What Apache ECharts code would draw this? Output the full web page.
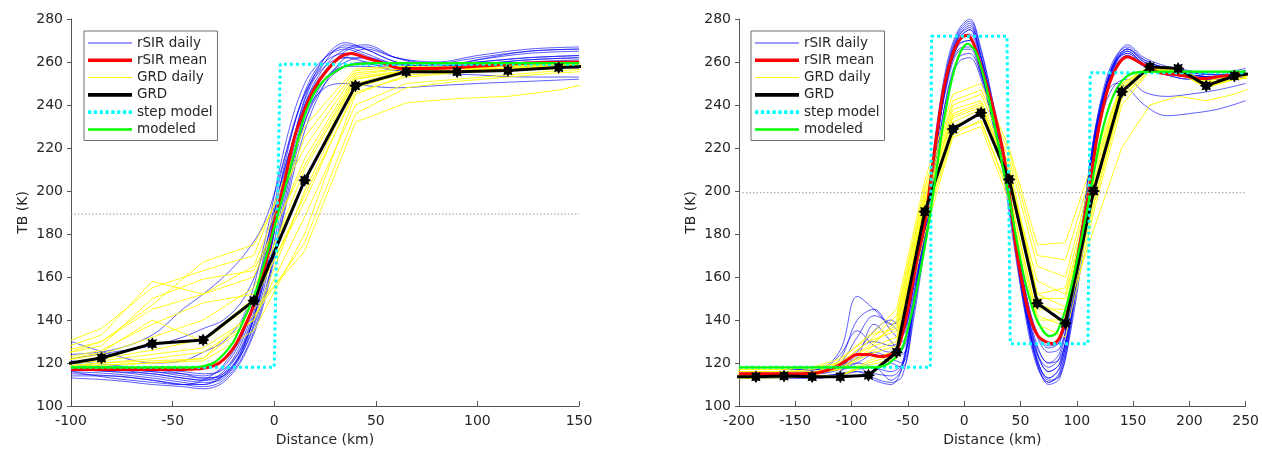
<!DOCTYPE html>
<html>
<head>
<meta charset="utf-8">
<title>TB profiles</title>
<script src="https://cdn.jsdelivr.net/npm/echarts@6/dist/echarts.min.js"></script>
<style>
html, body { margin: 0; padding: 0; background: #fff; }
#chart { width: 1262px; height: 453px; }
</style>
</head>
<body>
<div id="chart"></div>
<script>
// ---------- left panel (single edge) ----------
var leftSirX = [-100, -80, -60, -45, -35, -25, -15, -5, 5, 15, 25, 35, 45, 60, 80, 100, 125, 150];
var leftSirDaily = [
    [116, 115, 113, 111, 110, 114, 128, 158, 205, 242, 260, 268, 266, 260, 258, 260, 262, 263],
    [118, 117, 115, 113, 112, 116, 132, 165, 212, 246, 262, 267, 264, 259, 258, 261, 264, 265],
    [114, 114, 112, 110, 109, 112, 124, 150, 195, 235, 255, 265, 267, 262, 260, 263, 266, 267],
    [120, 118, 116, 115, 114, 118, 134, 170, 215, 245, 258, 262, 260, 256, 255, 256, 258, 259],
    [117, 116, 114, 112, 111, 113, 126, 155, 198, 232, 250, 258, 260, 258, 259, 262, 265, 266],
    [130, 124, 120, 121, 125, 130, 142, 175, 220, 250, 262, 266, 263, 258, 257, 258, 260, 261],
    [115, 114, 112, 110, 110, 115, 130, 162, 208, 240, 256, 262, 262, 259, 258, 259, 261, 262],
    [121, 119, 117, 115, 113, 115, 126, 152, 190, 228, 250, 262, 266, 262, 259, 260, 262, 263],
    [124, 126, 133, 145, 152, 160, 170, 185, 215, 245, 260, 264, 262, 258, 255, 254, 253, 253],
    [116, 113, 111, 110, 112, 119, 135, 168, 210, 236, 248, 250, 249, 248, 249, 250, 251, 252],
    [119, 118, 117, 116, 115, 117, 129, 160, 204, 240, 258, 266, 268, 262, 258, 259, 261, 262],
    [113, 112, 110, 109, 108, 111, 123, 148, 192, 232, 252, 260, 262, 258, 257, 261, 265, 266],
    [118, 117, 116, 114, 113, 114, 128, 158, 205, 243, 262, 269, 266, 260, 257, 258, 259, 260],
    [122, 125, 128, 132, 136, 140, 150, 172, 210, 238, 252, 258, 258, 256, 255, 256, 257, 258],
    [117, 116, 115, 113, 112, 114, 127, 160, 202, 236, 252, 258, 259, 257, 256, 256, 257, 257]
];
var leftSirMeanX = [-100, -80, -60, -45, -35, -27, -20, -15, -10, -5, 0, 5, 10, 15, 20, 25, 32, 38, 45, 55, 62, 80, 100, 125, 150];
var leftSirMean = [117, 117, 117, 117, 117.5, 120, 127, 136, 147, 163, 185, 204, 225, 238, 248, 255, 262, 264, 262, 259, 257, 257, 258, 259.5, 260];
var leftGrdX = [-110, -85, -60, -35, -10, 15, 40, 65, 90, 115, 140, 165];
var leftGrdDaily = [
    [118, 120, 121, 122, 140, 200, 250, 256, 256, 257, 258, 258],
    [120, 124, 132, 140, 155, 205, 252, 256, 257, 258, 259, 259],
    [125, 133, 158, 152, 160, 215, 254, 257, 257, 258, 258, 259],
    [122, 130, 145, 152, 165, 225, 256, 258, 258, 258, 259, 259],
    [118, 119, 120, 121, 135, 180, 245, 254, 255, 256, 257, 258],
    [127, 136, 155, 163, 170, 230, 257, 258, 257, 258, 259, 260],
    [119, 122, 126, 131, 150, 195, 248, 255, 256, 257, 258, 258],
    [118, 119, 120, 122, 145, 172, 232, 241, 243, 244, 247, 252],
    [121, 126, 138, 148, 152, 210, 252, 256, 256, 257, 258, 258],
    [124, 130, 147, 167, 175, 220, 255, 257, 257, 257, 258, 259],
    [118, 120, 122, 125, 140, 188, 240, 250, 252, 254, 256, 257],
    [120, 125, 140, 130, 148, 198, 246, 253, 255, 256, 258, 258],
    [119, 121, 124, 127, 142, 176, 236, 248, 251, 253, 255, 256],
    [123, 128, 150, 159, 163, 212, 253, 256, 256, 257, 258, 259]
];
var leftGrd = [118.5, 122.3, 129, 130.7, 149, 205, 249, 255.5, 255.5, 256, 257.4, 258.5];
var leftStepX = [-100, 0, 3, 150];
var leftStepY = [118, 118, 259, 259];
var leftModelX = [-100, -40, -35, -30, -25, -20, -15, -10, -5, 0, 5, 10, 15, 20, 25, 30, 35, 40, 50, 150];
var leftModelY = [118, 118, 118.5, 120, 124, 130, 140, 151, 166, 183, 200, 218, 235, 246, 252, 255.5, 258, 259, 259.5, 259.5];
var leftLevel = 189.3;

// ---------- right panel (double edge) ----------
var rightSirX = [-200, -160, -130, -110, -95, -80, -65, -55, -45, -35, -25, -15, -5, 5, 15, 25, 35, 45, 55, 65, 75, 85, 95, 105, 115, 125, 135, 145, 160, 180, 200, 225, 250];
var rightSirDaily = [
    [116, 116, 117, 126, 151, 145, 138, 142, 158, 183, 220, 252, 270, 275, 262, 240, 215, 180, 148, 125, 116, 120, 145, 180, 222, 248, 262, 266, 260, 256, 254, 253, 255],
    [114, 114, 114, 115, 116, 112, 110, 118, 145, 178, 220, 255, 272, 277, 262, 240, 214, 175, 140, 118, 111, 116, 140, 178, 220, 246, 260, 265, 259, 255, 254, 253, 255],
    [115, 115, 115, 122, 140, 145, 135, 130, 152, 182, 222, 254, 268, 270, 255, 232, 207, 172, 142, 124, 118, 123, 150, 185, 225, 248, 261, 264, 258, 254, 252, 252, 254],
    [117, 117, 117, 118, 120, 118, 116, 120, 150, 185, 228, 260, 275, 280, 266, 243, 218, 182, 150, 128, 120, 122, 142, 175, 215, 243, 258, 263, 258, 255, 255, 255, 257],
    [113, 113, 113, 116, 125, 135, 140, 135, 155, 180, 215, 245, 260, 262, 252, 233, 210, 176, 146, 127, 120, 125, 150, 185, 220, 240, 250, 252, 246, 244, 245, 247, 250],
    [116, 116, 116, 117, 118, 113, 111, 114, 140, 175, 218, 252, 268, 270, 256, 236, 212, 178, 146, 122, 112, 114, 136, 170, 212, 243, 260, 266, 261, 257, 255, 254, 256],
    [115, 115, 116, 124, 135, 128, 125, 126, 148, 182, 224, 256, 272, 276, 262, 240, 213, 176, 144, 121, 113, 118, 142, 178, 218, 246, 262, 268, 262, 258, 256, 254, 255],
    [117, 117, 117, 119, 123, 138, 130, 124, 145, 176, 214, 246, 262, 264, 254, 236, 214, 182, 152, 133, 127, 130, 152, 186, 224, 244, 250, 248, 240, 235, 236, 238, 242],
    [114, 114, 114, 115, 117, 118, 112, 118, 147, 183, 226, 258, 274, 279, 265, 242, 215, 178, 145, 120, 110, 113, 138, 175, 218, 245, 259, 263, 258, 255, 254, 253, 255],
    [116, 116, 116, 118, 126, 130, 128, 132, 155, 185, 222, 250, 265, 266, 254, 236, 213, 180, 150, 132, 125, 127, 148, 182, 222, 247, 260, 264, 259, 255, 253, 252, 254],
    [115, 115, 115, 117, 120, 124, 120, 118, 143, 178, 220, 253, 270, 273, 259, 238, 212, 176, 143, 119, 111, 115, 140, 176, 219, 246, 261, 266, 260, 256, 254, 253, 255],
    [113, 113, 113, 114, 116, 115, 114, 119, 148, 184, 225, 257, 273, 278, 263, 241, 215, 179, 147, 124, 116, 120, 146, 182, 224, 250, 263, 267, 261, 257, 255, 254, 256],
    [116, 116, 116, 120, 132, 142, 138, 133, 156, 186, 222, 252, 266, 267, 256, 238, 215, 182, 152, 134, 128, 130, 150, 183, 222, 246, 258, 262, 258, 254, 252, 252, 253],
    [114, 114, 115, 118, 122, 125, 122, 120, 146, 180, 220, 254, 271, 275, 260, 238, 212, 176, 143, 120, 113, 118, 143, 179, 221, 247, 261, 265, 259, 256, 254, 253, 255]
];
var rightSirMeanX = [-200, -150, -130, -115, -105, -95, -85, -75, -65, -58, -50, -42, -35, -26, -18, -10, -3, 3, 8, 15, 25, 35, 40, 46, 52, 58, 65, 72, 79, 85, 91, 97, 103, 108, 112, 117, 123, 129, 137, 145, 155, 174, 190, 211, 230, 250];
var rightSirMean = [115, 115, 115.5, 118, 121, 124, 124, 123, 124, 128, 145, 168, 185, 220, 248, 264, 271, 272.5, 269, 258, 240, 217, 199, 174, 156, 142, 133, 130, 129, 132, 142, 158, 176, 191, 203, 222, 238, 250, 259, 262.5, 260, 255, 254, 252.3, 253.5, 254.7];
var rightGrdX = [-210, -185, -160, -135, -110, -85, -60, -35, -10, 15, 40, 65, 90, 115, 140, 165, 190, 215, 240, 265];
var rightGrdDaily = [
    [114, 114, 115, 114, 118, 125, 130, 195, 235, 240, 210, 145, 145, 205, 248, 258, 256, 250, 253, 254],
    [116, 116, 116, 116, 117, 126, 140, 200, 240, 245, 215, 165, 160, 210, 250, 258, 257, 251, 254, 255],
    [113, 113, 114, 113, 114, 121, 126, 186, 228, 232, 200, 140, 140, 195, 244, 256, 256, 248, 252, 253],
    [115, 115, 115, 115, 120, 130, 135, 192, 232, 238, 205, 150, 150, 200, 246, 257, 257, 250, 253, 254],
    [117, 117, 117, 118, 122, 132, 145, 205, 245, 250, 220, 175, 176, 215, 250, 258, 256, 250, 253, 255],
    [114, 114, 114, 114, 114, 119, 122, 180, 225, 230, 195, 138, 132, 190, 240, 256, 256, 249, 252, 253],
    [116, 116, 116, 117, 119, 128, 138, 198, 238, 242, 212, 152, 155, 208, 248, 257, 255, 249, 252, 254],
    [115, 115, 115, 115, 117, 124, 128, 190, 230, 236, 203, 148, 142, 182, 220, 240, 244, 242, 245, 250],
    [114, 114, 114, 114, 119, 127, 132, 194, 234, 239, 208, 152, 146, 198, 245, 257, 257, 250, 253, 254],
    [117, 117, 117, 118, 120, 130, 142, 202, 242, 247, 218, 170, 168, 212, 249, 258, 256, 251, 254, 255],
    [115, 115, 115, 115, 121, 133, 136, 196, 236, 241, 207, 158, 152, 203, 247, 257, 256, 250, 253, 254],
    [113, 113, 113, 114, 114, 120, 124, 184, 226, 233, 198, 142, 137, 193, 243, 256, 255, 248, 252, 253]
];
var rightGrd = [113.6, 113.6, 114, 113.6, 113.6, 114.3, 125, 190.4, 228.8, 236.4, 205.4, 147.8, 138.5, 200, 246.2, 257.8, 257, 249, 253.5, 255.5];
var rightStepX = [-200, -30, -29, 38, 41, 110, 112, 250];
var rightStepY = [118, 118, 272, 272, 129, 129, 255, 255];
var rightModelX = [-200, -80, -70, -62, -55, -48, -40, -32, -25, -18, -10, -3, 3, 10, 18, 26, 34, 40, 47, 55, 63, 70, 76, 82, 90, 97, 105, 112, 120, 128, 136, 145, 155, 170, 250];
var rightModelY = [118, 118, 119, 122, 127, 140, 160, 183, 208, 233, 254, 265, 268.5, 265, 252, 233, 212, 197, 176, 156, 142, 135, 132.5, 134, 145, 160, 180, 199, 222, 238, 248, 253.5, 255.3, 255.5, 255.5];
var rightLevel = 199.2;

var FONT = 'DejaVu Sans';
var TXT = '#262626';
var AXC = '#555555';
// bold asterisk marker for the GRD points
var STAR = 'path://M10,5L7.9,6.2L8.54,8.54L6.2,7.9L5,10L3.8,7.9L1.46,8.54L2.1,6.2L0,5L2.1,3.8L1.46,1.46L3.8,2.1L5,0L6.2,2.1L8.54,1.46L7.9,3.8Z';
// legend icons: plain bars of different thickness, and a dotted bar
var ICON_THIN = 'path://M0,0H44V1H0Z';
var ICON_MID = 'path://M0,0H44V2.5H0Z';
var ICON_THICK = 'path://M0,0H44V3.6H0Z';
var ICON_DOT = 'path://M0,0h3.2v3.6h-3.2zM5.7,0h3.2v3.6h-3.2zM11.4,0h3.2v3.6h-3.2zM17.1,0h3.2v3.6h-3.2zM22.8,0h3.2v3.6h-3.2zM28.5,0h3.2v3.6h-3.2zM34.2,0h3.2v3.6h-3.2zM39.9,0h3.2v3.6h-3.2z';

function pairs(xs, ys) {
    return xs.map(function (x, i) { return [x, ys[i]]; });
}

function line(name, idx, xs, ys, color, width, type, smooth) {
    return {
        name: name,
        type: 'line',
        xAxisIndex: idx,
        yAxisIndex: idx,
        data: pairs(xs, ys),
        symbol: 'none',
        smooth: smooth || false,
        clip: true,
        silent: true,
        itemStyle: { color: color },
        lineStyle: { color: color, width: width, type: type || 'solid' }
    };
}

function panel(idx, p) {
    var out = [];
    p.sirDaily.forEach(function (ys) {
        out.push(line('rSIR daily', idx, p.sirX, ys, 'rgba(0,0,255,0.8)', 0.8, 'solid', 0.35));
    });
    p.grdDaily.forEach(function (ys) {
        out.push(line('GRD daily', idx, p.grdX, ys, '#ffff00', 0.9));
    });
    out.push(line('level', idx, [p.xmin, p.xmax], [p.level, p.level], '#9a9a9a', 1, [1.5, 2]));
    out.push(line('rSIR mean', idx, p.meanX, p.mean, '#ff0000', 3, 'solid', 0.3));
    out.push(line('GRD', idx, p.grdX, p.grd, '#000000', 3));
    out.push(line('step model', idx, p.stepX, p.stepY, '#00ffff', 3, 'dotted'));
    out.push(line('modeled', idx, p.modelX, p.modelY, '#00ff00', 2.2, 'solid', 0.3));
    out.push({
        name: 'GRD points',
        type: 'scatter',
        xAxisIndex: idx,
        yAxisIndex: idx,
        z: 3,
        data: pairs(p.grdX, p.grd),
        symbol: STAR,
        symbolSize: 13,
        clip: true,
        silent: true,
        itemStyle: { color: '#000000', opacity: 1 }
    });
    return out;
}

function xAxis(idx, min, max) {
    return {
        gridIndex: idx, type: 'value', min: min, max: max, interval: 50,
        name: 'Distance (km)', nameLocation: 'middle', nameGap: 27,
        nameTextStyle: { fontSize: 14, color: TXT, fontFamily: FONT },
        axisLine: { onZero: false, lineStyle: { color: AXC, width: 1 } },
        axisTick: { inside: true, length: 5, lineStyle: { color: AXC } },
        axisLabel: { fontSize: 14, color: TXT, fontFamily: FONT, margin: 8 },
        splitLine: { show: false }
    };
}

function yAxis(idx) {
    return {
        gridIndex: idx, type: 'value', min: 100, max: 280, interval: 20,
        name: 'TB (K)', nameLocation: 'middle', nameGap: 41,
        nameTextStyle: { fontSize: 14, color: TXT, fontFamily: FONT },
        axisLine: { show: true, onZero: false, lineStyle: { color: AXC, width: 1 } },
        axisTick: { show: true, length: 4, lineStyle: { color: AXC } },
        axisLabel: { fontSize: 14, color: TXT, fontFamily: FONT, margin: 8 },
        splitLine: { show: false }
    };
}

function legend(left) {
    return {
        orient: 'vertical', left: left, top: 31,
        itemWidth: 44, itemHeight: 14, itemGap: 3.3,
        padding: [5, 5, 4, 4],
        backgroundColor: '#ffffff', borderColor: '#6e6e6e', borderWidth: 1,
        selectedMode: false,
        textStyle: { fontSize: 13.5, color: TXT, fontFamily: FONT },
        data: [
            { name: 'rSIR daily', icon: ICON_THIN },
            { name: 'rSIR mean', icon: ICON_THICK },
            { name: 'GRD daily', icon: ICON_THIN },
            { name: 'GRD', icon: ICON_THICK },
            { name: 'step model', icon: ICON_DOT },
            { name: 'modeled', icon: ICON_MID }
        ]
    };
}

var chart = echarts.init(document.getElementById('chart'));
var option = {
    animation: false,
    backgroundColor: '#ffffff',
    textStyle: { fontFamily: FONT },
    legend: [legend(84), legend(751)],
    grid: [
        { left: 71, top: 19, width: 508, height: 387 },
        { left: 739, top: 19, width: 507, height: 387 }
    ],
    xAxis: [xAxis(0, -100, 150), xAxis(1, -200, 250)],
    yAxis: [yAxis(0), yAxis(1)],
    series: [].concat(
        panel(0, {
            sirX: leftSirX, sirDaily: leftSirDaily, meanX: leftSirMeanX, mean: leftSirMean,
            grdX: leftGrdX, grdDaily: leftGrdDaily, grd: leftGrd,
            stepX: leftStepX, stepY: leftStepY, modelX: leftModelX, modelY: leftModelY,
            level: leftLevel, xmin: -100, xmax: 150
        }),
        panel(1, {
            sirX: rightSirX, sirDaily: rightSirDaily, meanX: rightSirMeanX, mean: rightSirMean,
            grdX: rightGrdX, grdDaily: rightGrdDaily, grd: rightGrd,
            stepX: rightStepX, stepY: rightStepY, modelX: rightModelX, modelY: rightModelY,
            level: rightLevel, xmin: -200, xmax: 250
        })
    )
};
chart.setOption(option);

window.addEventListener('resize', chart.resize);
</script>
</body>
</html>
